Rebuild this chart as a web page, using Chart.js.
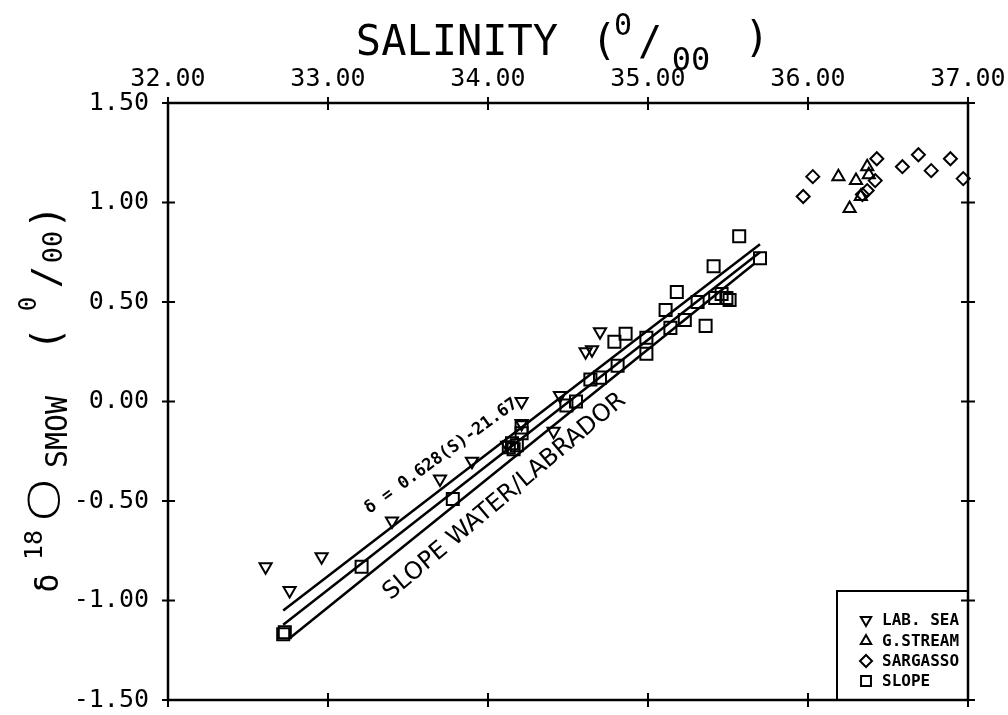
<!DOCTYPE html>
<html>
<head>
<meta charset="utf-8">
<script src="https://cdn.jsdelivr.net/npm/chart.js@4/dist/chart.umd.min.js"></script>
<style>
  html, body { margin: 0; padding: 0; background: #fff; }
  #wrap { width: 1008px; height: 715px; }
</style>
</head>
<body>
<div id="wrap"><canvas id="c" width="1008" height="715"></canvas></div>
<script>
// Axis tick values
const salinityTicks = [32, 33, 34, 35, 36, 37];
const deltaTicks = [-1.5, -1.0, -0.5, 0, 0.5, 1.0, 1.5];

// Samples: [salinity, delta-18O]
const labSea = [
  [32.61, -0.83], [32.76, -0.95], [32.96, -0.78], [33.40, -0.60], [33.70, -0.39],
  [33.90, -0.30], [34.12, -0.22], [34.21, 0.00], [34.21, -0.11], [34.41, -0.15],
  [34.45, 0.03], [34.61, 0.25], [34.65, 0.26], [34.70, 0.35]
];
const gStream = [
  [36.19, 1.13], [36.30, 1.11], [36.26, 0.97], [36.37, 1.18], [36.33, 1.03], [36.38, 1.14]
];
const sargasso = [
  [35.97, 1.03], [36.03, 1.13], [36.43, 1.22], [36.42, 1.11], [36.37, 1.06], [36.34, 1.04],
  [36.59, 1.18], [36.69, 1.24], [36.77, 1.16], [36.89, 1.22], [36.97, 1.12]
];
const slope = [
  [32.72, -1.17], [32.73, -1.16], [33.21, -0.83], [33.78, -0.49], [34.13, -0.23],
  [34.16, -0.24], [34.18, -0.22], [34.15, -0.21], [34.21, -0.13], [34.21, -0.16],
  [34.49, -0.02], [34.55, 0.00], [34.64, 0.11], [34.70, 0.12], [34.81, 0.18],
  [34.79, 0.30], [34.86, 0.34], [34.99, 0.24], [34.99, 0.32], [35.11, 0.46],
  [35.14, 0.37], [35.18, 0.55], [35.23, 0.41], [35.31, 0.50], [35.36, 0.38],
  [35.41, 0.68], [35.42, 0.52], [35.46, 0.54], [35.49, 0.52], [35.51, 0.51],
  [35.57, 0.83], [35.70, 0.72]
];

// Slope water / Labrador mixing line: delta = 0.628 (S) - 21.67
const fitSlope = 0.628;
const fitIntercept = -21.67;
const fitRange = [32.72, 35.70];
// Band lines either side of the fit
const upperBand = [[32.72, -1.05], [35.70, 0.79]];
const lowerBand = [[32.76, -1.19], [35.66, 0.69]];

const toPts = arr => arr.map(([x, y]) => ({ x, y }));
const fitLine = fitRange.map(s => ({ x: s, y: fitSlope * s + fitIntercept }));

const MONO = '"DejaVu Sans Mono", "Liberation Mono", monospace';
const LIGHT = '"Open Sans", "Liberation Sans", sans-serif';
const SANS = '"DejaVu Sans", "Liberation Sans", sans-serif';

const markerBase = {
  type: 'scatter',
  borderColor: '#000',
  backgroundColor: 'rgba(0,0,0,0)',
  borderWidth: 2,
  pointHoverRadius: 6,
  clip: false
};
const lineBase = {
  type: 'line',
  showLine: true,
  borderColor: '#000',
  borderWidth: 2.5,
  pointRadius: 0,
  fill: false,
  tension: 0
};

const datasets = [
  Object.assign({}, lineBase, { label: 'upper', data: toPts(upperBand) }),
  Object.assign({}, lineBase, { label: 'fit', data: fitLine }),
  Object.assign({}, lineBase, { label: 'lower', data: toPts(lowerBand) }),
  Object.assign({}, markerBase, { label: 'LAB. SEA', data: toPts(labSea), pointStyle: 'triangle', rotation: 180, pointRadius: 7 }),
  Object.assign({}, markerBase, { label: 'G.STREAM', data: toPts(gStream), pointStyle: 'triangle', rotation: 0, pointRadius: 7 }),
  Object.assign({}, markerBase, { label: 'SARGASSO', data: toPts(sargasso), pointStyle: 'rectRot', rotation: 0, pointRadius: 6.5 }),
  Object.assign({}, markerBase, { label: 'SLOPE', data: toPts(slope), pointStyle: 'rect', rotation: 0, pointRadius: 8.5 })
];

function drawPiece(ctx, p) {
  ctx.save();
  ctx.font = p.font;
  ctx.textAlign = 'center';
  ctx.textBaseline = 'alphabetic';
  ctx.translate(p.x, p.y);
  if (p.sx) ctx.scale(p.sx, 1);
  ctx.fillText(p.t, 0, 0);
  ctx.restore();
}

// Frame, crossing tick marks, titles, annotations and legend
const decorations = {
  id: 'decorations',
  afterDraw(chart) {
    const { ctx, chartArea: a, scales: { x, y } } = chart;
    ctx.save();
    ctx.strokeStyle = '#000';
    ctx.fillStyle = '#000';

    // frame
    ctx.lineWidth = 2.5;
    ctx.strokeRect(a.left, a.top, a.right - a.left, a.bottom - a.top);

    // ticks crossing the frame
    ctx.lineWidth = 2;
    ctx.beginPath();
    x.ticks.forEach(t => {
      const px = x.getPixelForValue(t.value);
      ctx.moveTo(px, a.top - 6); ctx.lineTo(px, a.top + 7);
      ctx.moveTo(px, a.bottom - 7); ctx.lineTo(px, a.bottom + 7);
    });
    y.ticks.forEach(t => {
      const py = y.getPixelForValue(t.value);
      ctx.moveTo(a.left - 6, py); ctx.lineTo(a.left + 7, py);
      ctx.moveTo(a.right - 7, py); ctx.lineTo(a.right + 7, py);
    });
    ctx.stroke();

    // top title: SALINITY (0/00)
    [
      { t: 'SALINITY', x: 457, y: 55, font: '42px ' + MONO },
      { t: '(', x: 604, y: 55, font: '42px ' + MONO },
      { t: '0', x: 623, y: 35, font: '30px ' + MONO },
      { t: '/', x: 650, y: 55, font: '40px ' + MONO },
      { t: '00', x: 691, y: 70, font: '32px ' + MONO },
      { t: ')', x: 757, y: 52, font: '42px ' + MONO }
    ].forEach(p => drawPiece(ctx, p));

    // left title: delta 18O SMOW (0/00), read bottom to top
    ctx.save();
    ctx.translate(60, 600);
    ctx.rotate(-Math.PI / 2);
    [
      { t: '\u03B4', x: 17, y: -2, font: '32px ' + MONO },
      { t: '18', x: 55, y: -18, font: '25px ' + MONO },
      { t: 'O', x: 100, y: 0, font: '300 45px ' + LIGHT, sx: 1.25 },
      { t: 'SMOW', x: 168, y: 7, font: '30px ' + MONO },
      { t: '(', x: 261, y: 0, font: '40px ' + MONO },
      { t: '0', x: 296, y: -24, font: '24px ' + MONO },
      { t: '/', x: 323, y: -2, font: '38px ' + MONO },
      { t: '00', x: 353, y: 2, font: '27px ' + MONO },
      { t: ')', x: 383, y: 0, font: '40px ' + MONO }
    ].forEach(p => drawPiece(ctx, p));
    ctx.restore();

    // fit equation along the line
    ctx.save();
    ctx.translate(x.getPixelForValue(33.26), y.getPixelForValue(-0.565));
    ctx.rotate(-36 * Math.PI / 180);
    ctx.font = 'bold 17px ' + MONO;
    ctx.textAlign = 'left';
    ctx.textBaseline = 'alphabetic';
    ctx.fillText('\u03B4 = 0.628(S)-21.67', 0, 0);
    ctx.restore();

    // water mass label
    ctx.save();
    ctx.translate(x.getPixelForValue(33.39), y.getPixelForValue(-1.0));
    ctx.rotate(-40 * Math.PI / 180);
    ctx.font = '24px ' + SANS;
    ctx.textAlign = 'left';
    ctx.textBaseline = 'alphabetic';
    ctx.fillText('SLOPE WATER/LABRADOR', 0, 0);
    ctx.restore();

    // legend box in the lower-right corner
    const lx = 837, ly = 591;
    ctx.lineWidth = 2;
    ctx.beginPath();
    ctx.moveTo(lx, a.bottom); ctx.lineTo(lx, ly); ctx.lineTo(a.right, ly);
    ctx.stroke();
    ctx.save();
    ctx.beginPath();
    ctx.rect(lx, ly, a.right - lx - 3, a.bottom - ly);
    ctx.clip();
    const rows = [620, 641, 661, 681];
    [3, 4, 5, 6].forEach((di, i) => {
      const ds = chart.data.datasets[di];
      ctx.lineWidth = 2;
      ctx.strokeStyle = '#000';
      ctx.fillStyle = 'rgba(0,0,0,0)';
      Chart.helpers.drawPoint(ctx, {
        pointStyle: ds.pointStyle,
        rotation: ds.rotation,
        radius: ds.pointStyle === 'rect' ? 7 : 6,
        borderWidth: 2
      }, 866, rows[i]);
      ctx.fillStyle = '#000';
      ctx.font = 'bold 16px ' + MONO;
      ctx.textAlign = 'left';
      ctx.textBaseline = 'middle';
      ctx.fillText(ds.label, 882, rows[i] + 1);
    });
    ctx.restore();

    ctx.restore();
  }
};

new Chart(document.getElementById('c'), {
  type: 'scatter',
  data: { datasets },
  options: {
    responsive: false,
    animation: false,
    devicePixelRatio: 1,
    layout: { padding: { top: 0, left: 0, right: 40, bottom: 15 } },
    plugins: { legend: { display: false }, tooltip: { enabled: false } },
    scales: {
      x: {
        type: 'linear',
        position: 'top',
        min: 32, max: 37,
        afterBuildTicks: s => { s.ticks = salinityTicks.map(v => ({ value: v })); },
        afterFit: s => { s.height = 103; s.paddingLeft = 0; s.paddingRight = 0; },
        grid: { display: false },
        border: { display: false },
        ticks: {
          color: '#000',
          padding: 1,
          maxRotation: 0,
          font: { family: MONO, size: 25 },
          callback: v => Number(v).toFixed(2)
        }
      },
      y: {
        type: 'linear',
        position: 'left',
        min: -1.5, max: 1.5,
        afterBuildTicks: s => { s.ticks = deltaTicks.map(v => ({ value: v })); },
        afterFit: s => { s.width = 168; s.paddingTop = 0; s.paddingBottom = 0; },
        grid: { display: false },
        border: { display: false },
        ticks: {
          color: '#000',
          padding: 11,
          font: { family: MONO, size: 25 },
          callback: v => Number(v).toFixed(2)
        }
      }
    }
  },
  plugins: [decorations]
});
</script>
</body>
</html>
